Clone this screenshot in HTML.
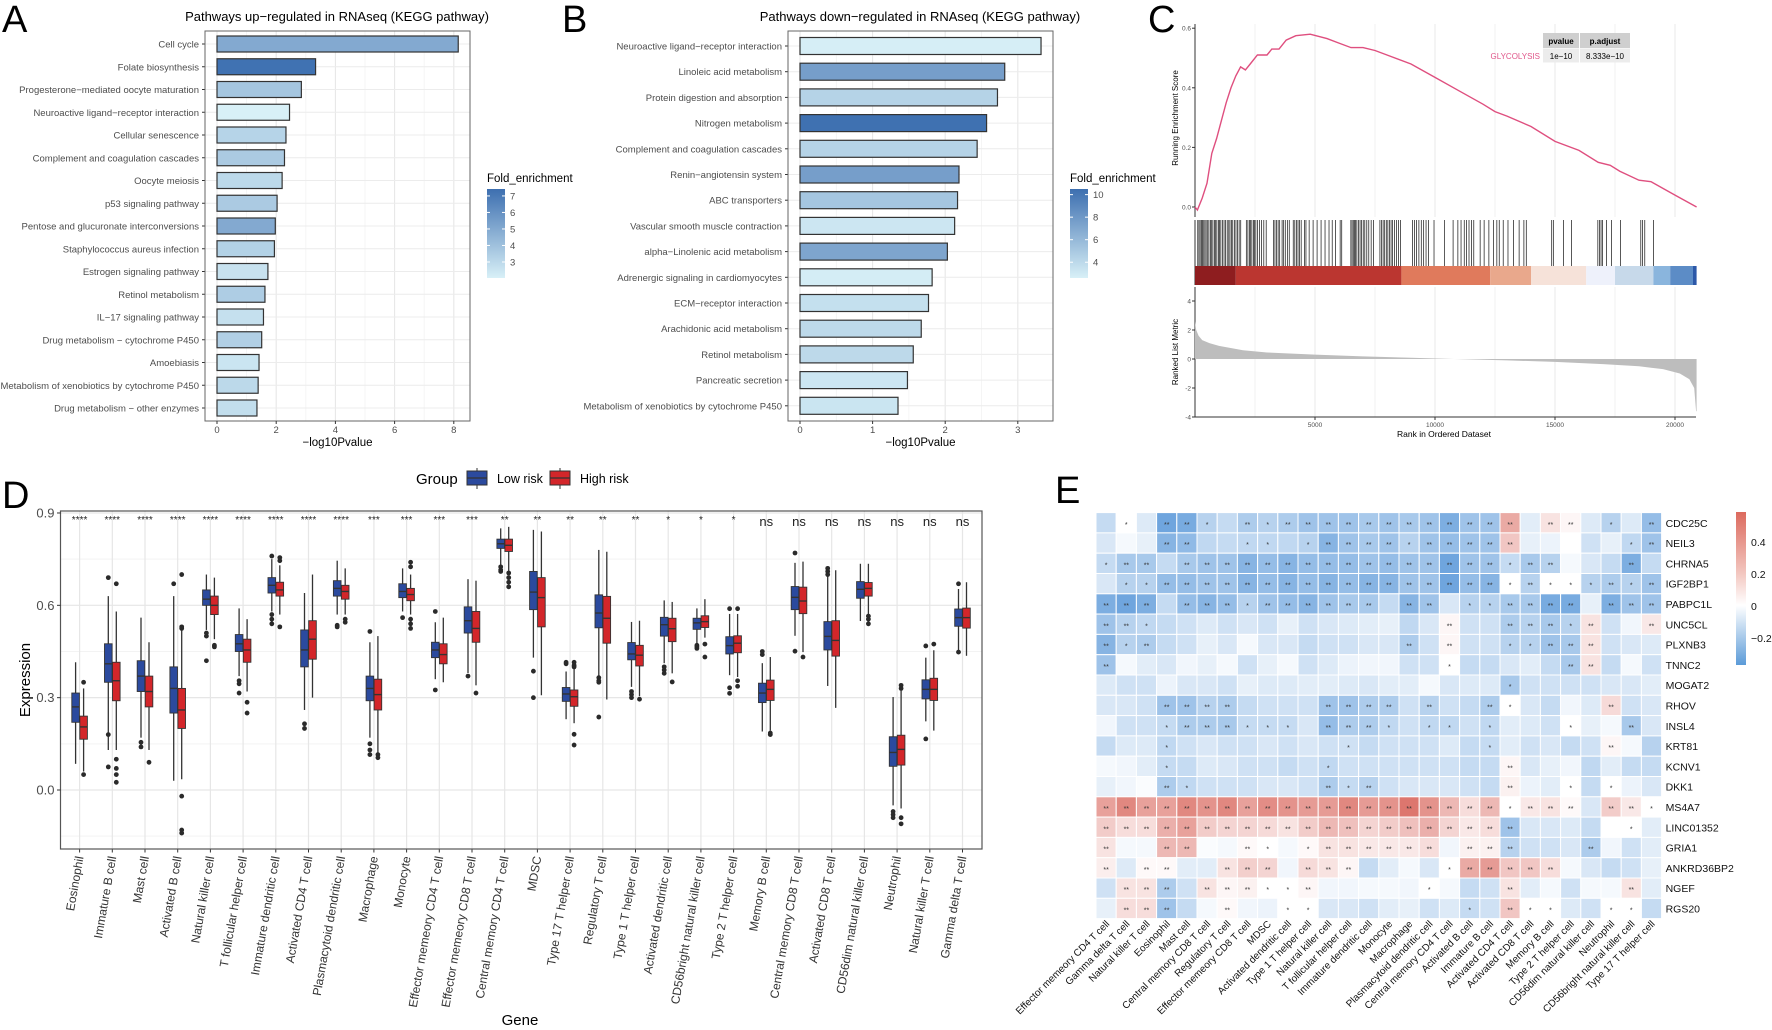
<!DOCTYPE html>
<html><head><meta charset="utf-8">
<style>
html,body{margin:0;padding:0;background:#fff;}
svg{display:block;font-family:"Liberation Sans",Arial,sans-serif;}
</style></head>
<body>
<svg id="fig" width="1772" height="1030" viewBox="0 0 1772 1030" xmlns="http://www.w3.org/2000/svg">
<defs>
<linearGradient id="gA" x1="0" y1="1" x2="0" y2="0"><stop offset="0" stop-color="#d8f0f7"/><stop offset="1" stop-color="#3d6fb0"/></linearGradient>
<linearGradient id="gE" x1="0" y1="0" x2="0" y2="1"><stop offset="0" stop-color="#dc6a5e"/><stop offset="0.39" stop-color="#f2c4bd"/><stop offset="0.61" stop-color="#ffffff"/><stop offset="1" stop-color="#5b9bd8"/></linearGradient>
</defs>
<g id="root"></g>
</svg>
<script>
// ---------- Panel A data ----------
const aCats=["Cell cycle","Folate biosynthesis","Progesterone\u2212mediated oocyte maturation","Neuroactive ligand\u2212receptor interaction","Cellular senescence","Complement and coagulation cascades","Oocyte meiosis","p53 signaling pathway","Pentose and glucuronate interconversions","Staphylococcus aureus infection","Estrogen signaling pathway","Retinol metabolism","IL\u221217 signaling pathway","Drug metabolism \u2212 cytochrome P450","Amoebiasis","Metabolism of xenobiotics by cytochrome P450","Drug metabolism \u2212 other enzymes"];
const aVals=[8.15,3.33,2.85,2.45,2.33,2.28,2.2,2.03,1.97,1.94,1.72,1.62,1.57,1.51,1.42,1.39,1.35];
const aFold=[5.0,7.3,3.8,2.0,3.2,3.6,3.0,3.6,5.0,3.3,2.6,3.5,2.7,3.4,2.5,3.0,2.8];
const aTicks=[0,2,4,6,8];
const aLegTicks=[3,4,5,6,7];
// ---------- Panel B data ----------
const bCats=["Neuroactive ligand\u2212receptor interaction","Linoleic acid metabolism","Protein digestion and absorption","Nitrogen metabolism","Complement and coagulation cascades","Renin\u2212angiotensin system","ABC transporters","Vascular smooth muscle contraction","alpha\u2212Linolenic acid metabolism","Adrenergic signaling in cardiomyocytes","ECM\u2212receptor interaction","Arachidonic acid metabolism","Retinol metabolism","Pancreatic secretion","Metabolism of xenobiotics by cytochrome P450"];
const bVals=[3.32,2.82,2.72,2.57,2.44,2.19,2.17,2.13,2.03,1.82,1.77,1.67,1.56,1.48,1.35];
const bFold=[2.7,7.6,4.4,10.4,4.4,7.6,5.2,3.2,7.2,2.8,3.6,4.0,4.0,3.2,3.3];
const bTicks=[0,1,2,3];
const bLegTicks=[4,6,8,10];
// ---------- Panel C data ----------
const esRank=[0,100,300,500,700,900,1100,1300,1500,1700,1900,2100,2300,2600,3000,3200,3500,3800,4200,4800,5500,6000,6500,7000,7500,8000,9000,10000,11000,12000,12500,13000,14000,15000,16000,16800,17300,17700,18500,19000,20000,20900];
const esVal=[0,-0.01,0.03,0.08,0.18,0.23,0.29,0.35,0.40,0.44,0.47,0.46,0.48,0.51,0.51,0.53,0.53,0.56,0.575,0.58,0.565,0.55,0.535,0.535,0.525,0.51,0.48,0.435,0.39,0.345,0.32,0.305,0.27,0.22,0.19,0.15,0.14,0.12,0.09,0.085,0.04,0.0];
const hitRanks=[116,166,215,265,315,365,414,464,530,580,646,696,746,812,862,911,978,1027,1077,1143,1210,1276,1342,1408,1458,1524,1574,1640,1707,1773,1839,1906,2138,2204,2270,2320,2370,2436,2486,2535,2601,2684,2767,2867,2966,3264,3331,3397,3463,3529,3629,3695,3761,3861,3927,4093,4159,4225,4292,4358,4424,4557,4623,4756,4921,5087,5253,5418,5584,5717,5849,6048,6114,6495,6545,6595,6645,6694,6744,6810,6877,6943,7009,7075,7158,7241,7340,7440,7705,7771,7838,7904,7970,8036,8103,8169,8235,8318,8401,8484,8567,9064,9147,9230,9329,9428,9528,9627,9727,9959,10389,10754,10953,11085,11218,11317,11417,11516,11616,11881,12047,12245,12444,12577,12676,12842,13041,13273,13505,13704,13803,14863,14930,15360,15692,16785,16851,16918,16984,17150,17349,17730,18575,18641,18741,19105];
const rlRank=[0,50,150,300,600,1000,2000,3000,5000,7000,9000,10800,13000,15000,17000,18500,19500,20200,20600,20800,20880,20900];
const rlVal=[2.6,2.0,1.6,1.3,1.1,0.9,0.6,0.45,0.3,0.18,0.08,0,-0.1,-0.2,-0.35,-0.5,-0.7,-1.0,-1.4,-2.0,-3.6,-3.6];
const cbStart=[0,1700,8600,12300,14000,16300,17500,19100,19800,20750];
const cbEnd=[1700,8600,12300,14000,16300,17500,19100,19800,20750,20900];
const cbColor=["#8e1d1f","#bb3630","#e07a5c","#e9a88c","#f6e2d9","#eef1fb","#c7d9ea","#8ab5dd","#5c8cc6","#2c58a8"];
const esTicks=[0,0.2,0.4,0.6];
const rlTicks=[-4,-2,0,2,4];
const rankTicks=[5000,10000,15000,20000];
// ---------- Panel D data ----------
const dCats=["Eosinophil","Immature  B cell","Mast cell","Activated B cell","Natural killer cell","T follicular helper cell","Immature dendritic cell","Activated CD4 T cell","Plasmacytoid dendritic cell","Macrophage","Monocyte","Effector memeory CD4 T cell","Effector memeory CD8 T cell","Central memory CD4 T cell","MDSC","Type 17 T helper cell","Regulatory T cell","Type 1 T helper cell","Activated dendritic cell","CD56bright natural killer cell","Type 2 T helper cell","Memory B cell","Central memory CD8 T cell","Activated CD8 T cell","CD56dim natural killer cell","Neutrophil","Natural killer T cell","Gamma delta T cell"];
const dSig=["****","****","****","****","****","****","****","****","****","***","***","***","***","**","**","**","**","**","*","*","*","ns","ns","ns","ns","ns","ns","ns"];
const lowStats=[[0.085,0.22,0.27,0.315,0.415],[0.13,0.35,0.41,0.475,0.63],[0.17,0.32,0.37,0.42,0.56],[0.03,0.25,0.33,0.40,0.63],[0.52,0.60,0.62,0.65,0.70],[0.37,0.45,0.475,0.505,0.59],[0.58,0.64,0.665,0.69,0.75],[0.26,0.40,0.455,0.52,0.64],[0.57,0.63,0.655,0.68,0.745],[0.17,0.29,0.33,0.37,0.48],[0.58,0.625,0.645,0.67,0.72],[0.36,0.43,0.455,0.48,0.545],[0.38,0.51,0.55,0.595,0.685],[0.73,0.785,0.80,0.815,0.85],[0.43,0.586,0.643,0.71,0.845],[0.23,0.288,0.312,0.333,0.385],[0.37,0.527,0.575,0.634,0.78],[0.335,0.423,0.442,0.479,0.546],[0.412,0.50,0.537,0.561,0.616],[0.474,0.522,0.543,0.558,0.59],[0.373,0.442,0.469,0.498,0.572],[0.19,0.284,0.315,0.347,0.412],[0.501,0.586,0.626,0.661,0.738],[0.338,0.455,0.499,0.547,0.70],[0.549,0.623,0.652,0.677,0.735],[-0.05,0.077,0.122,0.173,0.302],[0.223,0.296,0.327,0.358,0.43],[0.448,0.532,0.56,0.588,0.653]];
const highStats=[[0.06,0.165,0.205,0.24,0.33],[0.13,0.29,0.355,0.415,0.58],[0.13,0.27,0.32,0.37,0.48],[0.035,0.20,0.26,0.33,0.52],[0.49,0.57,0.60,0.63,0.69],[0.32,0.415,0.455,0.49,0.555],[0.57,0.63,0.65,0.675,0.73],[0.30,0.425,0.49,0.55,0.70],[0.57,0.62,0.645,0.665,0.72],[0.12,0.26,0.31,0.36,0.50],[0.57,0.615,0.635,0.655,0.70],[0.35,0.41,0.44,0.475,0.56],[0.34,0.48,0.525,0.58,0.68],[0.71,0.775,0.795,0.815,0.855],[0.308,0.53,0.625,0.69,0.84],[0.217,0.272,0.303,0.325,0.40],[0.294,0.477,0.558,0.629,0.774],[0.305,0.403,0.438,0.47,0.55],[0.379,0.482,0.524,0.558,0.611],[0.495,0.528,0.547,0.566,0.62],[0.367,0.446,0.477,0.501,0.572],[0.193,0.291,0.327,0.357,0.432],[0.448,0.573,0.614,0.659,0.742],[0.267,0.435,0.486,0.55,0.714],[0.566,0.63,0.655,0.674,0.735],[-0.06,0.081,0.132,0.178,0.323],[0.193,0.291,0.327,0.363,0.454],[0.436,0.526,0.56,0.591,0.675]];
const lowOut=[[],[0.69,0.18,0.075],[0.155,0.14],[0.67],[0.51,0.50,0.42],[0.355,0.345,0.315],[0.76,0.57,0.555,0.54],[0.215,0.20],[0.535,0.53],[0.515,0.15,0.13,0.115],[0.56],[0.58,0.325],[0.37],[0.725,0.715,0.71],[0.386,0.30],[0.41,0.415],[0.365,0.355,0.35,0.237],[0.32,0.31,0.30],[0.40,0.39,0.379],[0.47,0.465,0.46],[0.589,0.332,0.314],[0.45,0.44],[0.77,0.451],[0.72,0.71,0.70],[],[-0.07,-0.08,-0.09],[0.468,0.166],[0.67,0.448]];
const highOut=[[0.35,0.05],[0.67,0.10,0.07,0.05,0.025],[0.09],[0.70,0.53,0.525,-0.02,-0.13,-0.14],[0.47,0.465],[0.285,0.25],[0.755,0.745,0.53],[],[0.555,0.545],[0.115,0.105],[0.74,0.725,0.555,0.54,0.525],[],[0.315],[0.705,0.69,0.675,0.66],[],[0.415,0.405,0.40,0.181,0.146],[],[0.295],[0.351],[0.474,0.432],[0.589,0.355,0.337],[0.185,0.18],[0.432],[],[0.565,0.555,0.54],[0.34,0.33,-0.09,-0.11],[0.474],[]];
const dTicks=[0,0.3,0.6,0.9];
// ---------- Panel E data ----------
const eRows=["CDC25C","NEIL3","CHRNA5","IGF2BP1","PABPC1L","UNC5CL","PLXNB3","TNNC2","MOGAT2","RHOV","INSL4","KRT81","KCNV1","DKK1","MS4A7","LINC01352","GRIA1","ANKRD36BP2","NGEF","RGS20"];
const eCols=["Effector memeory CD4 T cell","Gamma delta T cell","Natural killer T cell","Eosinophil","Mast cell","Central memory CD8 T cell","Regulatory T cell","Effector memeory CD8 T cell","MDSC","Activated dendritic cell","Type 1 T helper cell","Natural killer cell","T follicular helper cell","Immature dendritic cell","Monocyte","Macrophage","Plasmacytoid dendritic cell","Central memory CD4 T cell","Activated B cell","Immature  B cell","Activated CD4 T cell","Activated CD8 T cell","Memory B cell","Type 2 T helper cell","CD56dim natural killer cell","Neutrophil","CD56bright natural killer cell","Type 17 T helper cell"];
const eVals=[
[-0.12,0.0,-0.07,-0.3,-0.28,-0.15,-0.12,-0.17,-0.15,-0.17,-0.2,-0.2,-0.2,-0.18,-0.2,-0.18,-0.2,-0.27,-0.2,-0.2,0.3,-0.06,0.1,0.03,-0.07,-0.15,-0.07,-0.22],
[-0.08,-0.02,-0.05,-0.25,-0.23,-0.13,-0.12,-0.13,-0.13,-0.13,-0.15,-0.25,-0.2,-0.18,-0.2,-0.15,-0.2,-0.22,-0.2,-0.2,0.2,-0.05,-0.04,0.0,-0.1,-0.05,-0.13,-0.2],
[-0.12,-0.18,-0.18,-0.12,-0.18,-0.2,-0.2,-0.25,-0.22,-0.25,-0.22,-0.22,-0.22,-0.2,-0.22,-0.2,-0.2,-0.3,-0.2,-0.2,-0.12,-0.18,-0.15,-0.02,-0.08,-0.12,-0.27,-0.12],
[-0.08,-0.15,-0.15,-0.22,-0.22,-0.2,-0.2,-0.25,-0.22,-0.25,-0.22,-0.25,-0.22,-0.25,-0.25,-0.2,-0.2,-0.3,-0.22,-0.25,0.0,-0.15,0.0,0.0,-0.15,-0.17,-0.15,-0.2],
[-0.27,-0.3,-0.27,-0.12,-0.22,-0.25,-0.22,-0.15,-0.2,-0.22,-0.25,-0.2,-0.18,-0.18,-0.12,-0.25,-0.2,-0.08,-0.15,-0.15,-0.18,-0.18,-0.28,-0.28,-0.05,-0.27,-0.2,-0.2],
[-0.2,-0.15,-0.13,-0.12,-0.1,-0.07,-0.1,-0.08,-0.1,-0.05,-0.1,-0.08,-0.07,-0.06,-0.05,-0.13,-0.08,0.03,-0.1,-0.1,-0.17,-0.15,-0.18,-0.15,0.1,-0.1,-0.03,0.08],
[-0.25,-0.15,-0.17,-0.12,-0.1,-0.05,-0.08,-0.02,-0.08,-0.08,-0.12,-0.1,-0.1,-0.08,-0.08,-0.17,-0.1,0.03,-0.1,-0.1,-0.15,-0.15,-0.2,-0.18,0.1,-0.1,-0.08,-0.07],
[-0.2,-0.02,-0.06,-0.08,-0.03,-0.05,-0.02,-0.1,-0.05,-0.02,-0.1,-0.07,-0.04,-0.03,-0.03,-0.1,-0.1,0.0,-0.12,-0.12,-0.08,-0.06,-0.12,-0.18,0.1,-0.12,-0.02,-0.1],
[-0.07,-0.1,-0.1,-0.04,-0.08,-0.08,-0.1,-0.05,-0.07,-0.07,-0.06,-0.06,-0.07,-0.08,-0.06,-0.06,-0.02,-0.08,-0.07,-0.07,-0.18,-0.1,-0.1,-0.1,-0.1,-0.08,-0.08,-0.06],
[-0.08,-0.08,-0.1,-0.2,-0.2,-0.15,-0.17,-0.12,-0.1,-0.1,-0.1,-0.2,-0.2,-0.17,-0.17,-0.1,-0.15,-0.1,-0.12,-0.17,0.0,-0.08,-0.12,-0.03,-0.07,0.13,-0.1,-0.08],
[-0.03,-0.1,-0.1,-0.12,-0.17,-0.17,-0.18,-0.12,-0.12,-0.12,-0.08,-0.22,-0.17,-0.17,-0.13,-0.1,-0.13,-0.13,-0.1,-0.13,-0.06,-0.07,-0.1,0.0,-0.05,-0.02,-0.18,-0.08],
[-0.12,-0.07,-0.07,-0.13,-0.1,-0.08,-0.1,-0.1,-0.08,-0.1,-0.08,-0.1,-0.1,-0.12,-0.1,-0.1,-0.1,-0.07,-0.12,-0.12,-0.06,-0.1,-0.08,-0.12,-0.1,0.03,-0.02,-0.15],
[-0.02,-0.03,-0.06,-0.12,-0.12,-0.07,-0.08,-0.1,-0.1,-0.12,-0.1,-0.13,-0.1,-0.1,-0.1,-0.1,-0.1,-0.1,-0.12,-0.12,0.03,-0.08,-0.05,-0.03,-0.13,-0.06,-0.12,-0.12],
[-0.05,-0.03,-0.01,-0.17,-0.13,-0.1,-0.1,-0.1,-0.08,-0.08,-0.1,-0.17,-0.12,-0.15,-0.1,-0.08,-0.08,-0.08,-0.1,-0.12,0.05,-0.04,-0.06,0.0,-0.12,0.0,-0.04,-0.08],
[0.33,0.42,0.33,0.33,0.42,0.38,0.42,0.33,0.4,0.38,0.35,0.35,0.42,0.35,0.38,0.48,0.38,0.25,0.12,0.25,0.0,0.08,0.1,0.02,-0.08,0.18,0.08,0.0],
[0.18,0.12,0.12,0.28,0.33,0.18,0.15,0.15,0.13,0.1,0.18,0.25,0.22,0.15,0.18,0.22,0.28,0.15,0.08,0.12,-0.2,-0.08,-0.08,-0.07,-0.12,0.0,0.0,-0.06],
[0.1,-0.02,-0.02,0.25,0.25,-0.01,-0.02,0.02,0.0,-0.02,0.02,0.1,0.1,0.08,0.08,0.08,0.12,-0.03,0.05,0.05,-0.15,-0.1,-0.1,-0.08,-0.17,-0.03,-0.1,-0.06],
[0.06,-0.07,0.02,0.02,-0.06,-0.06,0.1,0.17,0.15,-0.03,0.13,0.1,0.03,-0.12,-0.06,-0.02,-0.08,0.0,0.3,0.35,0.2,0.2,0.12,-0.02,-0.08,-0.12,-0.1,-0.05],
[-0.1,0.1,0.1,-0.17,-0.1,0.1,0.03,0.05,0.0,0.0,0.03,-0.03,-0.03,-0.02,-0.02,-0.03,0.0,-0.02,-0.12,-0.1,0.1,-0.06,-0.02,-0.1,-0.02,-0.02,0.1,-0.06],
[-0.05,0.12,0.12,-0.2,-0.12,-0.02,0.02,-0.03,-0.04,0.0,0.0,-0.08,-0.08,-0.1,-0.06,-0.05,-0.1,-0.07,-0.12,-0.1,0.2,0.0,0.0,-0.07,-0.1,0.0,0.0,-0.12]];
const eSig=["0102210212"+"2222222222"+"20220102","0002200110"+"1222212222"+"20000012","1220222222"+"2222222222"+"12200020","0112222222"+"2222222222"+"12111212","2220222122"+"2222022011"+"22220222","2210000000"+"0000000200"+"22212002","2120000000"+"0000020200"+"11222000","2000000000"+"0000000100"+"00022000","0000000000"+"0000000000"+"10000000","0002222000"+"0222202002"+"10000200","0001222111"+"0222101101"+"00010020","0001000000"+"0010000001"+"00000200","0001000000"+"0100000000"+"20000000","0002100000"+"0212000000"+"20010100","2222222222"+"2222222222"+"12220221","2222222222"+"2222222222"+"20000010","2002200210"+"1222222022"+"20002000","2022002220"+"2220000122"+"22200000","0222022211"+"2000001000"+"20000020","0222002001"+"1000000010"+"21100110"];
const eLegTicks=[0.4,0.2,0,-0.2];

const NS="http://www.w3.org/2000/svg";
const root=document.getElementById('root');
function mk(tag,attrs,parent){const e=document.createElementNS(NS,tag);for(const k in attrs)e.setAttribute(k,attrs[k]);(parent||root).appendChild(e);return e;}
function txt(s,attrs,parent){const e=mk('text',attrs,parent);e.textContent=s;return e;}
function lerp(a,b,t){return Math.round(a+(b-a)*t);}
function mixHex(c1,c2,t){return `rgb(${lerp(c1[0],c2[0],t)},${lerp(c1[1],c2[1],t)},${lerp(c1[2],c2[2],t)})`;}

// ---------- Panel labels ----------
[["A",2,32],["B",562,32],["C",1148,32],["D",2,508],["E",1055,503]].forEach(p=>{
  const t=txt(p[0],{x:p[1],y:p[2],'font-size':38});
  
  
});

// ---------- Bar panels ----------
function barPanel(cfg){
  const g=mk('g',{});
  
  
  const xs=v=>cfg.x0+v*cfg.kx;
  const ys=i=>cfg.yFirst+i*cfg.step;
  mk('rect',{x:cfg.left,y:cfg.top,width:cfg.right-cfg.left,height:cfg.bottom-cfg.top,fill:'#fff'},g);
  // minor grid
  for(let v=cfg.ticks[0];v<=cfg.ticks[cfg.ticks.length-1]+0.01;v+=cfg.minor){mk('line',{x1:xs(v),x2:xs(v),y1:cfg.top,y2:cfg.bottom,stroke:'#f3f3f3','stroke-width':0.8},g);}
  cfg.ticks.forEach(v=>{mk('line',{x1:xs(v),x2:xs(v),y1:cfg.top,y2:cfg.bottom,stroke:'#e6e6e6','stroke-width':1},g);});
  cfg.cats.forEach((c,i)=>{mk('line',{x1:cfg.left,x2:cfg.right,y1:ys(i),y2:ys(i),stroke:'#ececec','stroke-width':1},g);});
  const fmin=cfg.fmin,fmax=cfg.fmax;
  cfg.cats.forEach((c,i)=>{
    const t=Math.max(0,Math.min(1,(cfg.fold[i]-fmin)/(fmax-fmin)));
    const b=mk('rect',{x:xs(0),y:ys(i)-cfg.bh/2,width:xs(cfg.vals[i])-xs(0),height:cfg.bh,fill:mixHex([216,240,247],[61,111,176],t),stroke:'#333','stroke-width':1.2},g);
    
    
    txt(c,{x:cfg.left-6,y:ys(i)+3.5,'font-size':9.5,'text-anchor':'end',fill:'#4d4d4d'},g);
    mk('line',{x1:cfg.left-3,x2:cfg.left,y1:ys(i),y2:ys(i),stroke:'#333'},g);
  });
  mk('rect',{x:cfg.left,y:cfg.top,width:cfg.right-cfg.left,height:cfg.bottom-cfg.top,fill:'none',stroke:'#666','stroke-width':1},g);
  cfg.ticks.forEach(v=>{mk('line',{x1:xs(v),x2:xs(v),y1:cfg.bottom,y2:cfg.bottom+3,stroke:'#333'},g);txt(String(v),{x:xs(v),y:cfg.bottom+12,'font-size':9.5,'text-anchor':'middle',fill:'#4d4d4d'},g);});
  const xt=txt('\u2212log10Pvalue',{x:(cfg.left+cfg.right)/2,y:cfg.bottom+25,'font-size':11.5,'text-anchor':'middle'},g);
  
  
  const tt=txt(cfg.title,{x:cfg.titleX,y:21,'font-size':13,'text-anchor':'middle'},g);
  
  
  // legend
  const lg=mk('g',{},g);
  
  
  txt('Fold_enrichment',{x:cfg.legX,y:182,'font-size':11.5},lg);
  mk('rect',{x:cfg.legX,y:189,width:18,height:89,fill:'url(#gA)'},lg);
  const ly=v=>278-(v-fmin)/(fmax-fmin)*89;
  cfg.legTicks.forEach(v=>{mk('line',{x1:cfg.legX,x2:cfg.legX+3,y1:ly(v),y2:ly(v),stroke:'#fff'},lg);mk('line',{x1:cfg.legX+15,x2:cfg.legX+18,y1:ly(v),y2:ly(v),stroke:'#fff'},lg);txt(String(v),{x:cfg.legX+23,y:ly(v)+3.5,'font-size':9.5,fill:'#4d4d4d'},lg);});
}
barPanel({name:'panel-a-up-regulated-pathways',cats:aCats,vals:aVals,fold:aFold,ticks:aTicks,minor:1,legTicks:aLegTicks,left:205,right:470,top:31,bottom:421,x0:217,kx:29.6,yFirst:44,step:22.75,bh:16,fmin:2.03,fmax:7.42,title:'Pathways up\u2212regulated in RNAseq (KEGG pathway)',titleX:337,legX:487});
barPanel({name:'panel-b-down-regulated-pathways',cats:bCats,vals:bVals,fold:bFold,ticks:bTicks,minor:0.5,legTicks:bLegTicks,left:788,right:1053,top:31,bottom:421,x0:800,kx:72.6,yFirst:46,step:25.7,bh:17,fmin:2.6,fmax:10.5,title:'Pathways down\u2212regulated in RNAseq (KEGG pathway)',titleX:920,legX:1070});

// ---------- Panel C ----------
(function(){
  const g=mk('g',{});
  
  
  const L=1195,R=1696;
  const xr=r=>L+r*0.024;
  const ye=v=>207-v*298;
  const yr=v=>359-v*14.5;
  for(let r=2500;r<=20000;r+=2500){[[24,217],[287,417]].forEach(s=>mk('line',{x1:xr(r),x2:xr(r),y1:s[0],y2:s[1],stroke:r%5000?'#f2f2f2':'#e8e8e8','stroke-width':1},g));}
  mk('line',{x1:L,x2:L,y1:24,y2:217,stroke:'#333'},g);
  esTicks.forEach(v=>{mk('line',{x1:L-3,x2:L,y1:ye(v),y2:ye(v),stroke:'#333'},g);txt(v.toFixed(1),{x:L-4,y:ye(v)+2.5,'font-size':6.5,'text-anchor':'end',fill:'#4d4d4d'},g);});
  const yt=txt('Running Enrichment Score',{x:0,y:0,'font-size':8,'text-anchor':'middle',transform:`translate(1178,118) rotate(-90)`},g);
  
  
  const pts=esRank.map((r,i)=>xr(r).toFixed(1)+','+ye(esVal[i]).toFixed(1)).join(' ');
  const ln=mk('polyline',{points:pts,fill:'none',stroke:'#df4f7f','stroke-width':1.4},g);
  
  
  // table
  const tb=mk('g',{},g);
  
  
  mk('rect',{x:1543,y:33,width:36,height:15,fill:'#cfcfcf'},tb);
  mk('rect',{x:1580,y:33,width:50,height:15,fill:'#cfcfcf'},tb);
  mk('rect',{x:1543,y:48.5,width:36,height:14,fill:'#ececec'},tb);
  mk('rect',{x:1580,y:48.5,width:50,height:14,fill:'#ececec'},tb);
  txt('pvalue',{x:1561,y:44,'font-size':8,'font-weight':'bold','text-anchor':'middle'},tb);
  txt('p.adjust',{x:1605,y:44,'font-size':8,'font-weight':'bold','text-anchor':'middle'},tb);
  txt('1e\u221210',{x:1561,y:59,'font-size':8,'text-anchor':'middle'},tb);
  txt('8.333e\u221210',{x:1605,y:59,'font-size':8,'text-anchor':'middle'},tb);
  txt('GLYCOLYSIS',{x:1540,y:59,'font-size':8,'text-anchor':'end',fill:'#e0578a'},tb);
  // hits
  const hg=mk('g',{},g);
  
  
  mk('line',{x1:L,x2:L,y1:220,y2:285,stroke:'#333'},hg);
  hitRanks.forEach(r=>mk('line',{x1:xr(r),x2:xr(r),y1:220,y2:266,stroke:'#111','stroke-width':0.7},hg));
  const cg=mk('g',{},g);
  
  
  cbStart.forEach((s,i)=>mk('rect',{x:xr(s),y:266,width:xr(cbEnd[i])-xr(s),height:19,fill:cbColor[i]},cg));
  // ranked list
  mk('line',{x1:L,x2:L,y1:287,y2:417,stroke:'#333'},g);
  mk('line',{x1:L,x2:R,y1:417,y2:417,stroke:'#333'},g);
  rlTicks.forEach(v=>{mk('line',{x1:L-3,x2:L,y1:yr(v),y2:yr(v),stroke:'#333'},g);txt(String(v),{x:L-4,y:yr(v)+2.5,'font-size':6.5,'text-anchor':'end',fill:'#4d4d4d'},g);});
  let d='M'+xr(0)+','+yr(0);
  rlRank.forEach((r,i)=>{d+=' L'+xr(r).toFixed(1)+','+yr(rlVal[i]).toFixed(1);});
  d+=' L'+xr(rlRank[rlRank.length-1]).toFixed(1)+','+yr(0)+' Z';
  const ar=mk('path',{d:d,fill:'#bdbdbd'},g);
  
  
  const yt2=txt('Ranked List Metric',{x:0,y:0,'font-size':8,'text-anchor':'middle',transform:`translate(1178,352) rotate(-90)`},g);
  
  
  rankTicks.forEach(r=>{mk('line',{x1:xr(r),x2:xr(r),y1:417,y2:420,stroke:'#333'},g);txt(String(r),{x:xr(r),y:427,'font-size':6.5,'text-anchor':'middle',fill:'#4d4d4d'},g);});
  const xt=txt('Rank in Ordered Dataset',{x:1444,y:437,'font-size':8.5,'text-anchor':'middle'},g);
  
  
})();

// ---------- Panel D ----------
(function(){
  const g=mk('g',{});
  
  
  const L=60.5,R=982,T=511,B=849;
  const y=v=>790-v*307.8;
  const x=i=>79.6+i*32.7;
  mk('rect',{x:L,y:T,width:R-L,height:B-T,fill:'#fff'},g);
  [-0.15,0.15,0.45,0.75].forEach(v=>mk('line',{x1:L,x2:R,y1:y(v),y2:y(v),stroke:'#f3f3f3','stroke-width':1},g));
  dTicks.forEach(v=>mk('line',{x1:L,x2:R,y1:y(v),y2:y(v),stroke:'#e6e6e6','stroke-width':1.2},g));
  dCats.forEach((c,i)=>mk('line',{x1:x(i),x2:x(i),y1:T,y2:B,stroke:'#e6e6e6','stroke-width':1.2},g));
  const cols=['#2b4a9e','#d3262a'];
  function box(s,out,cx,col,nm){
    const bg=mk('g',{},g);
    
    
    mk('line',{x1:cx,x2:cx,y1:y(s[0]),y2:y(s[4]),stroke:'#333','stroke-width':1.3},bg);
    mk('rect',{x:cx-3.8,y:y(s[3]),width:7.6,height:y(s[1])-y(s[3]),fill:col,stroke:'#333','stroke-width':0.9},bg);
    mk('line',{x1:cx-3.8,x2:cx+3.8,y1:y(s[2]),y2:y(s[2]),stroke:'#333','stroke-width':1.4},bg);
    out.forEach(o=>mk('circle',{cx:cx,cy:y(o),r:2.4,fill:'#2a2a2a'},bg));
  }
  dCats.forEach((c,i)=>{
    const slug=c.toLowerCase().replace(/[^a-z0-9]+/g,'-');
    box(lowStats[i],lowOut[i],x(i)-4,cols[0],'box-low-'+slug);
    box(highStats[i],highOut[i],x(i)+4,cols[1],'box-high-'+slug);
    const ns=dSig[i]==='ns';
    txt(dSig[i],{x:x(i),y:ns?526:523,'font-size':ns?13:10,'text-anchor':'middle',fill:'#222'},g);
    mk('line',{x1:x(i),x2:x(i),y1:B,y2:B+3.5,stroke:'#333'},g);
    const lt=txt(c,{x:0,y:0,'font-size':12,'text-anchor':'end',fill:'#333',transform:`translate(${x(i)+4},${B+8}) rotate(-80)`},g);
    
    
  });
  mk('rect',{x:L,y:T,width:R-L,height:B-T,fill:'none',stroke:'#555','stroke-width':1.2},g);
  dTicks.forEach(v=>{mk('line',{x1:L-3.5,x2:L,y1:y(v),y2:y(v),stroke:'#333'},g);txt(v.toFixed(1),{x:L-6,y:y(v)+4.5,'font-size':13,'text-anchor':'end',fill:'#4d4d4d'},g);});
  const yt=txt('Expression',{x:0,y:0,'font-size':15,'text-anchor':'middle',transform:'translate(30,680) rotate(-90)'},g);
  
  
  const xt=txt('Gene',{x:520,y:1025,'font-size':15,'text-anchor':'middle'},g);
  
  
  const lg=mk('g',{},g);
  
  
  txt('Group',{x:416,y:484,'font-size':15},lg);
  [[467,cols[0],'Low risk',497],[550,cols[1],'High risk',580]].forEach(k=>{
    mk('line',{x1:k[0]+10,x2:k[0]+10,y1:468,y2:489,stroke:'#333'},lg);
    mk('rect',{x:k[0],y:471,width:20,height:14,fill:k[1],stroke:'#333','stroke-width':1},lg);
    mk('line',{x1:k[0],x2:k[0]+20,y1:478,y2:478,stroke:'#333','stroke-width':1.3},lg);
    txt(k[2],{x:k[3],y:483,'font-size':12.5},lg);
  });
})();

// ---------- Panel E ----------
(function(){
  const g=mk('g',{});
  
  
  const L=1096,T=512.6,cw=20.2,rh=20.3;
  const neg=[77,144,214],pos=[214,90,80];
  function col(v){ if(v<0) return mixHex([255,255,255],neg,Math.min(1,-v/0.37)); return mixHex([255,255,255],pos,Math.min(1,v/0.58)); }
  eRows.forEach((r,i)=>{
    eCols.forEach((c,j)=>{
      const cell=mk('rect',{x:L+j*cw,y:T+i*rh,width:cw,height:rh,fill:col(eVals[i][j]),stroke:'#fff','stroke-width':1},g);
      
      
      const s=eSig[i][j];
      if(s!=='0') txt(s==='2'?'**':'*',{x:L+j*cw+cw/2,y:T+i*rh+rh/2+4,'font-size':7,'text-anchor':'middle',fill:'#333'},g);
    });
    const rl=txt(r,{x:L+eCols.length*cw+4,y:T+i*rh+rh/2+4,'font-size':10.5,fill:'#111'},g);
    
    
  });
  const B=T+eRows.length*rh;
  eCols.forEach((c,j)=>{
    const cl=txt(c,{x:0,y:0,'font-size':10,'text-anchor':'end',fill:'#111',transform:`translate(${L+j*cw+cw/2+4},${B+6}) rotate(-45)`},g);
    
    
  });
  const lg=mk('g',{},g);
  
  
  mk('rect',{x:1736,y:512,width:10,height:153,fill:'url(#gE)'},lg);
  const ly=v=>606-v*160;
  eLegTicks.forEach(v=>txt(v===0?'0':(v<0?'\u2212':'')+Math.abs(v).toFixed(1),{x:1751,y:ly(v)+4,'font-size':10.5,fill:'#111'},lg));
})();
</script>
</body></html>
